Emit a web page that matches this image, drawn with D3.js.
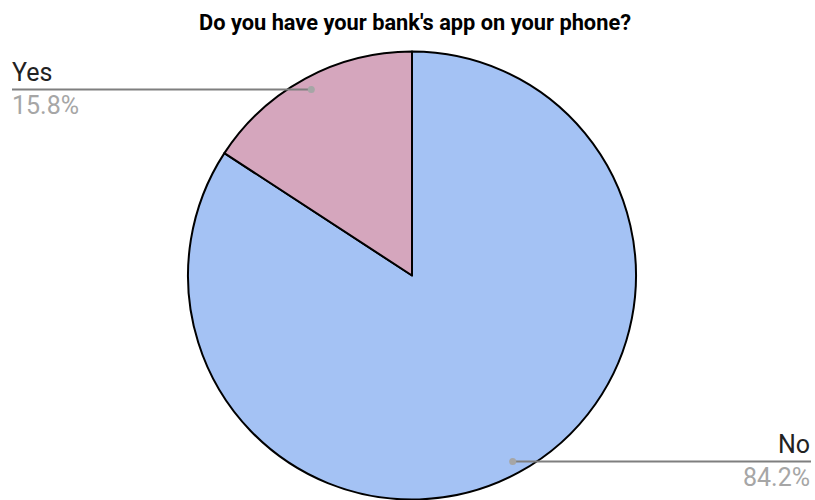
<!DOCTYPE html>
<html>
<head>
<meta charset="utf-8">
<script src="https://cdn.jsdelivr.net/npm/d3@7"></script>
<style>
  html, body { margin: 0; padding: 0; background: #fff; }
  svg { display: block; font-family: Roboto, "Noto Sans", sans-serif; }
</style>
</head>
<body>
<svg id="chart" width="815" height="500"></svg>
<script>
const title = "Do you have your bank's app on your phone?";
const categories = ["No", "Yes"];
const values = [84.2, 15.8];
const colors = ["#a4c2f4", "#d5a6bd"];

const W = 815, H = 500;
const cx = 412, cy = 275.5, R = 224;
const svg = d3.select("#chart");

svg.append("text")
  .attr("x", 415).attr("y", 30)
  .attr("text-anchor", "middle")
  .attr("font-size", 21.8).attr("font-weight", "bold")
  .attr("fill", "#000")
  .text(title);

const data = categories.map((c, i) => ({ name: c, value: values[i], color: colors[i] }));
const pie = d3.pie().value(d => d.value).sort(null);
const arcs = pie(data);
const arc = d3.arc().innerRadius(0).outerRadius(R);
const labelArc = d3.arc().innerRadius(R * 0.944).outerRadius(R * 0.944);

const g = svg.append("g").attr("transform", `translate(${cx},${cy})`);
g.selectAll("path.slice").data(arcs).join("path")
  .attr("class", "slice")
  .attr("d", arc)
  .attr("fill", d => d.data.color)
  .attr("stroke", "#000")
  .attr("stroke-width", 2)
  .attr("stroke-linejoin", "round");

// leader lines and labels
arcs.forEach(a => {
  const [px, py] = labelArc.centroid(a);
  const ax = cx + px, ay = cy + py;
  const left = ax < cx;
  const endX = left ? 12 : 811;
  svg.append("line")
    .attr("x1", ax).attr("y1", ay).attr("x2", endX).attr("y2", ay)
    .attr("stroke", "#7f7f7f").attr("stroke-width", 2);
  svg.append("circle")
    .attr("cx", ax).attr("cy", ay).attr("r", 3.5)
    .attr("fill", "#a6a6a6");
  const anchor = left ? "start" : "end";
  const tx = left ? 12 : 810;
  svg.append("text")
    .attr("x", tx).attr("y", ay - 8.5)
    .attr("text-anchor", anchor)
    .attr("font-size", 25).attr("fill", "#222")
    .text(a.data.name);
  svg.append("text")
    .attr("x", tx).attr("y", ay + 24.5)
    .attr("text-anchor", anchor)
    .attr("font-size", 25).attr("fill", "#a6a6a6")
    .text(d3.format(".1f")(a.data.value) + "%");
});
</script>
</body>
</html>
